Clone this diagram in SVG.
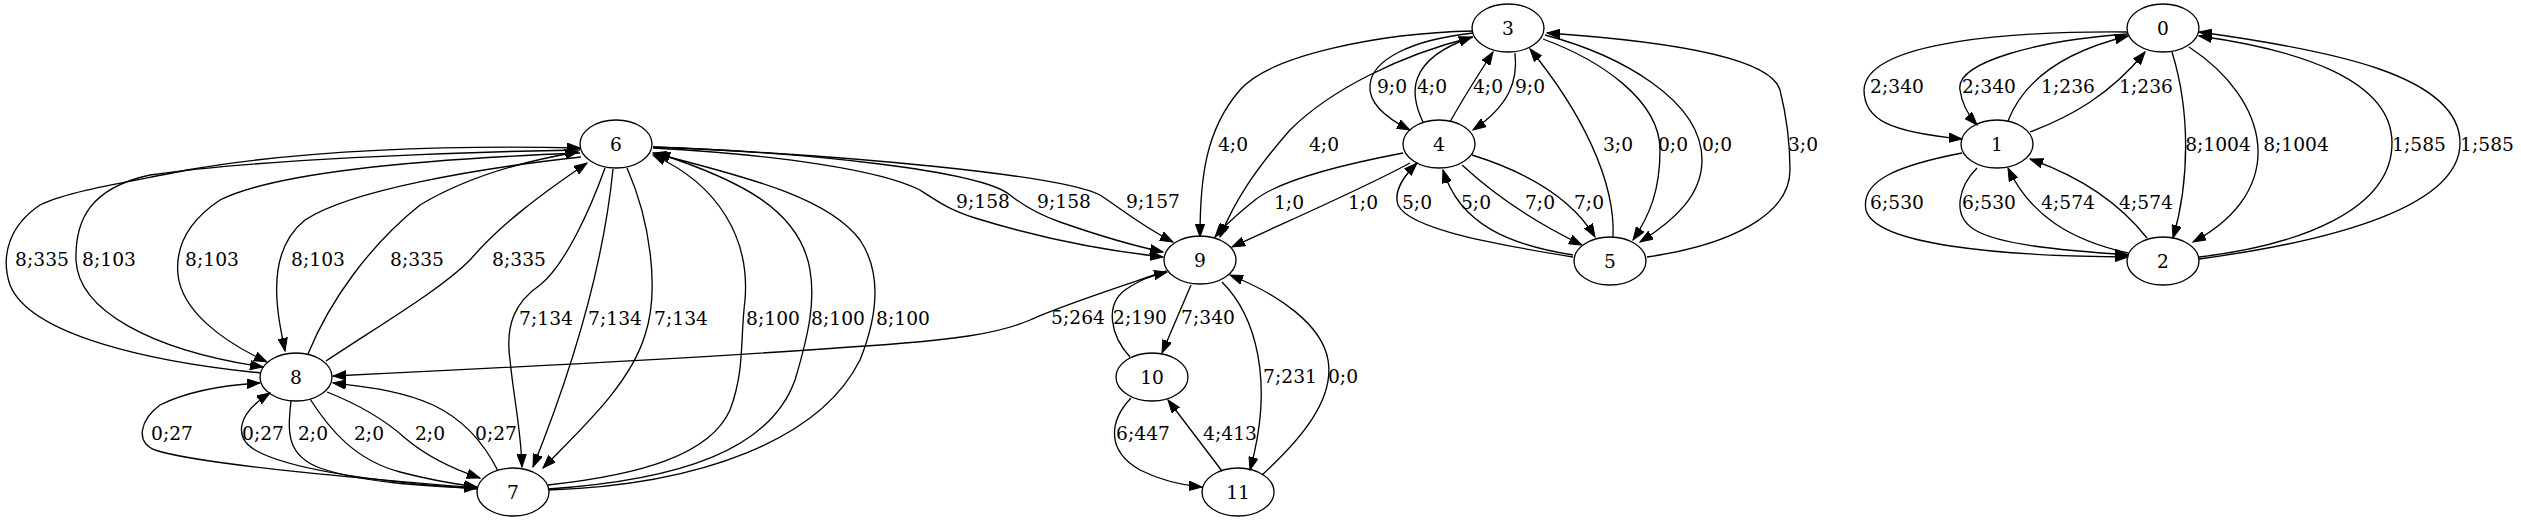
<svg xmlns="http://www.w3.org/2000/svg" width="2521" height="523" viewBox="0 0 2521 523">
<style>
.n ellipse{fill:none;stroke:#000;stroke-width:1.33}
.n text{font-family:"DejaVu Serif","Liberation Serif",serif;font-size:18.67px;text-anchor:middle;fill:#000}
.e path{fill:none;stroke:#000;stroke-width:1.33;marker-end:url(#a)}
.e text{font-family:"DejaVu Serif","Liberation Serif",serif;font-size:18.67px;text-anchor:middle;fill:#000}
</style>
<defs>
<marker id="a" markerWidth="14" markerHeight="10" refX="13" refY="5" orient="auto" markerUnits="userSpaceOnUse"><path d="M0,0.3 L13,5 L0,9.7 z" fill="#000" stroke="#000" stroke-width="1"/></marker>
</defs>
<rect width="2521" height="523" fill="#fff"/>
<g id="connectors" class="e">
<!-- component 0/1/2 -->
<path d="M2128,32 C2020,31 1866,40 1864,90 C1864,120 1890,132 1962,139"/><text x="1897" y="92.5">2;340</text>
<path d="M2128,34 C2040,40 1955,62 1960,90 C1962,105 1968,115 1977,125"/><text x="1989" y="92.5">2;340</text>
<path d="M2008,121 C2020,90 2050,55 2128,36"/><text x="2068" y="92.5">1;236</text>
<path d="M2030,132 C2070,117 2110,95 2145,52"/><text x="2146" y="92.5">1;236</text>
<path d="M2172,52 C2190,110 2190,180 2173,238"/><text x="2218" y="150.5">8;1004</text>
<path d="M2189,47 C2270,100 2290,190 2193,242"/><text x="2296" y="150.5">8;1004</text>
<path d="M2199,257 C2300,245 2392,210 2392,143 C2392,80 2300,50 2199,36"/><text x="2419" y="150.5">1;585</text>
<path d="M2199,259 C2340,240 2460,205 2460,143 C2460,75 2330,50 2199,32"/><text x="2487" y="150.5">1;585</text>
<path d="M1962,153 C1900,165 1860,180 1866,210 C1875,245 2000,256 2128,257"/><text x="1897" y="208.5">6;530</text>
<path d="M1977,168 C1960,185 1950,215 1975,230 C2000,245 2060,250 2128,255"/><text x="1989" y="208.5">6;530</text>
<path d="M2128,253 C2070,240 2030,215 2008,168"/><text x="2068" y="208.5">4;574</text>
<path d="M2147,238 C2125,210 2090,180 2030,159"/><text x="2146" y="208.5">4;574</text>
<!-- component 3/4/5 -->
<path d="M1473,31 C1380,33 1270,55 1240,90 C1205,130 1200,180 1200,237"/><text x="1233" y="150.5">4;0</text>
<path d="M1473,37 C1400,55 1330,90 1290,130 C1255,170 1235,200 1220,237"/><text x="1324" y="150.5">4;0</text>
<path d="M1403,153 C1340,165 1280,180 1255,200 C1240,212 1225,225 1215,237"/><text x="1289" y="208.5">1;0</text>
<path d="M1410,163 C1360,190 1290,220 1232,247"/><text x="1363" y="208.5">1;0</text>
<path d="M1473,33 C1410,40 1372,60 1370,85 C1368,105 1390,120 1410,130"/><text x="1392" y="92.5">9;0</text>
<path d="M1423,122 C1410,95 1405,60 1472,37"/><text x="1432" y="92.5">4;0</text>
<path d="M1450,122 C1465,95 1478,75 1493,52"/><text x="1488" y="92.5">4;0</text>
<path d="M1515,53 C1518,80 1510,105 1473,130"/><text x="1530" y="92.5">9;0</text>
<path d="M1462,165 C1500,200 1540,225 1582,245"/><text x="1540" y="208.5">7;0</text>
<path d="M1472,155 C1520,170 1570,195 1595,237"/><text x="1589" y="208.5">7;0</text>
<path d="M1573,257 C1500,245 1410,230 1398,205 C1393,190 1405,175 1417,163"/><text x="1417" y="208.5">5;0</text>
<path d="M1573,255 C1510,245 1460,225 1443,170"/><text x="1476" y="208.5">5;0</text>
<path d="M1613,238 C1616,180 1580,110 1530,49"/><text x="1618" y="150.5">3;0</text>
<path d="M1543,39 C1600,60 1660,100 1660,150 C1660,190 1650,215 1633,240"/><text x="1673" y="150.5">0;0</text>
<path d="M1545,35 C1620,55 1702,100 1702,160 C1702,195 1675,220 1640,242"/><text x="1717" y="150.5">0;0</text>
<path d="M1647,257 C1730,245 1790,215 1790,170 C1790,140 1785,110 1780,90 C1770,55 1650,40 1547,33"/><text x="1803" y="150.5">3;0</text>
<!-- component 6..11 -->
<path d="M653,148 C780,155 880,170 920,190 C940,203 950,210 975,218 C1040,238 1100,250 1163,257"/><text x="983" y="207.5">9;158</text>
<path d="M653,147 C800,152 980,170 1010,195 C1025,207 1040,215 1060,222 C1100,236 1130,245 1163,252"/><text x="1064" y="207.5">9;158</text>
<path d="M653,147 C850,155 1060,175 1100,195 C1120,208 1140,225 1173,242"/><text x="1153" y="207.5">9;157</text>
<path d="M605,168 C590,210 565,265 540,285 C515,302 505,325 510,360 C514,400 521,430 522,467"/><text x="546" y="324.5">7;134</text>
<path d="M613,169 C605,250 580,350 533,467"/><text x="615" y="324.5">7;134</text>
<path d="M627,168 C650,220 660,290 645,335 C630,385 580,430 543,468"/><text x="681" y="324.5">7;134</text>
<path d="M548,485 C640,475 710,455 730,410 C745,370 740,340 745,300 C750,240 720,185 653,155"/><text x="773" y="324.5">8;100</text>
<path d="M548,489 C680,480 770,450 795,380 C810,330 815,300 810,270 C800,210 740,180 657,153"/><text x="838" y="324.5">8;100</text>
<path d="M548,490 C700,485 820,440 860,360 C880,310 880,270 860,240 C830,200 760,180 653,153"/><text x="903" y="324.5">8;100</text>
<path d="M1166,271 C1110,290 1060,306 1030,320 C1000,333 960,340 850,347 C700,358 500,368 333,376"/><text x="1078" y="323.5">5;264</text>
<path d="M1130,357 C1110,335 1105,305 1125,290 C1140,280 1150,276 1167,272"/><text x="1140" y="323.5">2;190</text>
<path d="M1191,285 L1162,353"/><text x="1208" y="323.5">7;340</text>
<path d="M1222,282 C1255,315 1275,380 1250,470"/><text x="1290" y="382.5">7;231</text>
<path d="M1262,475 C1300,440 1335,400 1328,360 C1322,325 1280,295 1230,275"/><text x="1343" y="382.5">0;0</text>
<path d="M1131,398 C1110,420 1105,450 1140,470 C1160,480 1180,485 1202,487"/><text x="1143" y="439.5">6;447</text>
<path d="M1222,471 L1168,400"/><text x="1230" y="439.5">4;413</text>
<path d="M261,373 C150,362 30,335 10,285 C0,255 10,225 40,205 C70,190 140,180 187,170 C300,150 450,145 580,148"/><text x="42" y="265.5">8;335</text>
<path d="M580,150 C450,152 250,160 150,175 C90,188 75,220 76,260 C78,310 150,350 263,367"/><text x="109" y="265.5">8;103</text>
<path d="M580,153 C450,158 280,170 220,200 C190,220 175,245 178,275 C182,310 220,340 267,362"/><text x="212" y="265.5">8;103</text>
<path d="M581,157 C480,168 350,190 305,220 C280,240 275,270 277,300 C278,320 282,335 285,351"/><text x="318" y="265.5">8;103</text>
<path d="M308,354 C330,300 370,245 420,205 C470,175 530,160 578,152"/><text x="417" y="265.5">8;335</text>
<path d="M326,361 C380,325 440,290 470,260 C500,225 540,195 587,163"/><text x="519" y="265.5">8;335</text>
<path d="M477,488 C380,480 200,465 155,450 C135,442 140,420 160,405 C190,390 225,385 260,383"/><text x="172" y="439.5">0;27</text>
<path d="M477,489 C380,482 290,470 255,450 C235,438 235,415 270,393"/><text x="263" y="439.5">0;27</text>
<path d="M291,401 C288,430 285,455 320,468 C360,482 420,486 477,488"/><text x="313" y="439.5">2;0</text>
<path d="M310,399 C330,430 355,460 400,472 C430,480 455,484 477,487"/><text x="369" y="439.5">2;0</text>
<path d="M327,392 C360,405 385,420 405,438 C425,455 450,468 480,478"/><text x="430" y="439.5">2;0</text>
<path d="M498,471 C485,445 465,420 433,405 C400,390 365,387 333,383"/><text x="496" y="439.5">0;27</text>
</g>
<g id="node0" class="n"><ellipse cx="2163" cy="28" rx="36" ry="24"/><text x="2163" y="34.5">0</text></g>
<g id="node1" class="n"><ellipse cx="1997" cy="144" rx="36" ry="24"/><text x="1997" y="150.5">1</text></g>
<g id="node2" class="n"><ellipse cx="2163" cy="261" rx="36" ry="24"/><text x="2163" y="267.5">2</text></g>
<g id="node3" class="n"><ellipse cx="1508" cy="28" rx="36" ry="24"/><text x="1508" y="34.5">3</text></g>
<g id="node4" class="n"><ellipse cx="1439" cy="144" rx="36" ry="24"/><text x="1439" y="150.5">4</text></g>
<g id="node5" class="n"><ellipse cx="1610" cy="261" rx="36" ry="24"/><text x="1610" y="267.5">5</text></g>
<g id="node6" class="n"><ellipse cx="616" cy="144" rx="36" ry="24"/><text x="616" y="150.5">6</text></g>
<g id="node7" class="n"><ellipse cx="513" cy="492" rx="36" ry="24"/><text x="513" y="498.5">7</text></g>
<g id="node8" class="n"><ellipse cx="296" cy="377" rx="36" ry="24"/><text x="296" y="383.5">8</text></g>
<g id="node9" class="n"><ellipse cx="1200" cy="260" rx="36" ry="24"/><text x="1200" y="266.5">9</text></g>
<g id="node10" class="n"><ellipse cx="1152" cy="377" rx="36" ry="24"/><text x="1152" y="383.5">10</text></g>
<g id="node11" class="n"><ellipse cx="1238" cy="492" rx="36" ry="24"/><text x="1238" y="498.5">11</text></g>
</svg>
